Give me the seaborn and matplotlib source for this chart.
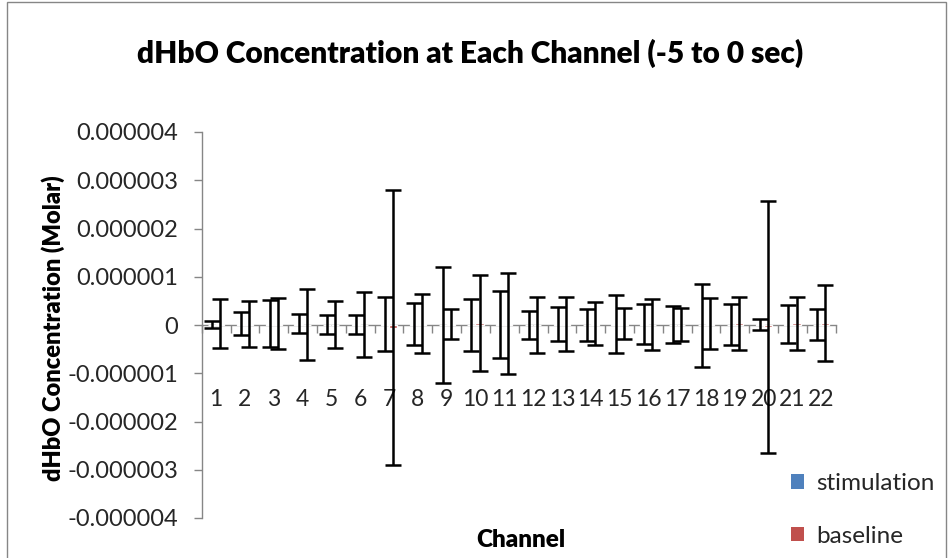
import matplotlib
matplotlib.use("Agg")
import matplotlib.pyplot as plt
import seaborn as sns
import pandas as pd
from matplotlib.ticker import FuncFormatter, FixedLocator
from matplotlib.patches import Rectangle, Patch

# ---------------- data ----------------
channels = [str(i) for i in range(1, 23)]
series = ["stimulation", "baseline"]
colors = ["#4F81BD", "#C0504D"]

stim_mean = [1.0e-8, 3.0e-8, 3.0e-8, 3.0e-8, 1.0e-8, 1.5e-8, 2.0e-8, 2.0e-8, 0.0, 0.5e-8, 2.0e-8,
             0.0, 2.0e-8, 0.5e-8, 2.0e-8, 2.0e-8, 0.5e-8, -1.0e-8, 0.5e-8, 1.5e-8, 2.0e-8, 1.0e-8]
base_mean = [3.0e-8, 1.5e-8, 3.0e-8, 1.0e-8, 1.0e-8, 1.0e-8, -6.0e-8, 3.0e-8, 3.0e-8, 4.0e-8, 3.0e-8,
             0.5e-8, 3.0e-8, 3.0e-8, 3.0e-8, 1.0e-8, 1.0e-8, 3.0e-8, 4.0e-8, -5.0e-8, 4.0e-8, 4.5e-8]
stim_err = [0.07e-6, 0.235e-6, 0.48e-6, 0.195e-6, 0.195e-6, 0.195e-6, 0.56e-6, 0.44e-6, 1.21e-6, 0.535e-6, 0.695e-6,
            0.30e-6, 0.36e-6, 0.33e-6, 0.60e-6, 0.41e-6, 0.38e-6, 0.87e-6, 0.42e-6, 0.11e-6, 0.40e-6, 0.32e-6]
base_err = [0.515e-6, 0.48e-6, 0.52e-6, 0.745e-6, 0.48e-6, 0.675e-6, 2.85e-6, 0.605e-6, 0.31e-6, 1.0e-6, 1.04e-6,
            0.58e-6, 0.56e-6, 0.44e-6, 0.315e-6, 0.535e-6, 0.34e-6, 0.52e-6, 0.55e-6, 2.61e-6, 0.55e-6, 0.785e-6]
y_ticks = [-4e-6, -3e-6, -2e-6, -1e-6, 0.0, 1e-6, 2e-6, 3e-6, 4e-6]

title = "dHbO Concentration at Each Channel (-5 to 0 sec)"
y_label = "dHbO Concentration (Molar)"
x_label = "Channel"

# ---------------- style ----------------
sns.set_theme(style="white")
plt.rcParams["font.family"] = ["Lato", "DejaVu Sans"]

df = pd.DataFrame({
    "Channel": channels * 2,
    "value": stim_mean + base_mean,
    "series": [series[0]] * len(channels) + [series[1]] * len(channels),
})
errs = {series[0]: stim_err, series[1]: base_err}
means = {series[0]: stim_mean, series[1]: base_mean}

W, H = 948, 558
fig = plt.figure(figsize=(W / 100, H / 100), dpi=100)
ax = fig.add_axes([201.7 / W, 1 - 518 / H, 634 / W, 386 / H])

sns.barplot(data=df, x="Channel", y="value", hue="series", hue_order=series,
            palette=colors, width=0.56, errorbar=None, saturation=1, ax=ax, legend=False)
for cont in ax.containers:
    for p in cont.patches:
        p.set_zorder(2)

for cont, s in zip(ax.containers, series):
    xs = [p.get_x() + p.get_width() / 2 for p in cont.patches]
    ax.errorbar(xs, means[s], yerr=errs[s], fmt="none", ecolor="black",
                elinewidth=1.8, capsize=5.8, capthick=1.8, zorder=5)

axis_gray = "#868686"
ax.set_ylim(-4e-6, 4e-6)
ax.set_xlim(-0.5, len(channels) - 0.5)
ax.set_xlabel("")
ax.set_ylabel("")
for sp in ["top", "right"]:
    ax.spines[sp].set_visible(False)
ax.spines["left"].set_color(axis_gray)
ax.spines["left"].set_linewidth(1.0)
ax.spines["bottom"].set_position(("data", 0))
ax.spines["bottom"].set_color(axis_gray)
ax.spines["bottom"].set_linewidth(1.0)
ax.spines["bottom"].set_zorder(1)

ax.yaxis.set_major_locator(FixedLocator(y_ticks))
ax.yaxis.set_major_formatter(FuncFormatter(lambda v, p: "0" if abs(v) < 1e-12 else f"{v:.6f}"))
ax.tick_params(axis="y", which="major", direction="out", length=6, width=1,
               color=axis_gray, labelsize=17, pad=11, left=True)

ax.set_xticks(range(len(channels)))
ax.set_xticklabels(channels)
ax.xaxis.set_minor_locator(FixedLocator([i - 0.5 for i in range(len(channels) + 1)]))
ax.tick_params(axis="x", which="major", length=0, labelsize=16.5, pad=46, bottom=True)
ax.tick_params(axis="x", which="minor", direction="out", length=6, width=1,
               color=axis_gray, bottom=True)

fig.text(470 / W, 1 - 63 / H, title, ha="center", va="baseline",
         fontsize=21.5, fontweight="heavy", color="black")
fig.text(53 / W, 1 - 328 / H, y_label, ha="center", va="center", rotation=90,
         fontsize=17, fontweight="heavy", color="black")
fig.text(521 / W, 1 - 540 / H, x_label, ha="center", va="center",
         fontsize=17.5, fontweight="heavy", color="black")

handles = [Patch(facecolor=c, edgecolor="none") for c in colors]
fig.legend(handles, series, loc="upper left", bbox_to_anchor=(791 / W, 1 - 473 / H),
           frameon=False, fontsize=17.5, handlelength=0.55, handleheight=0.55,
           handletextpad=0.5, labelspacing=1.3, borderpad=0, borderaxespad=0)

fig.patches.append(Rectangle((7 / W, -0.02), (946 - 7) / W, 1.02 - 2 / H,
                             transform=fig.transFigure, fill=False,
                             edgecolor=axis_gray, linewidth=1.0))

fig.savefig("out.png", dpi=100)
